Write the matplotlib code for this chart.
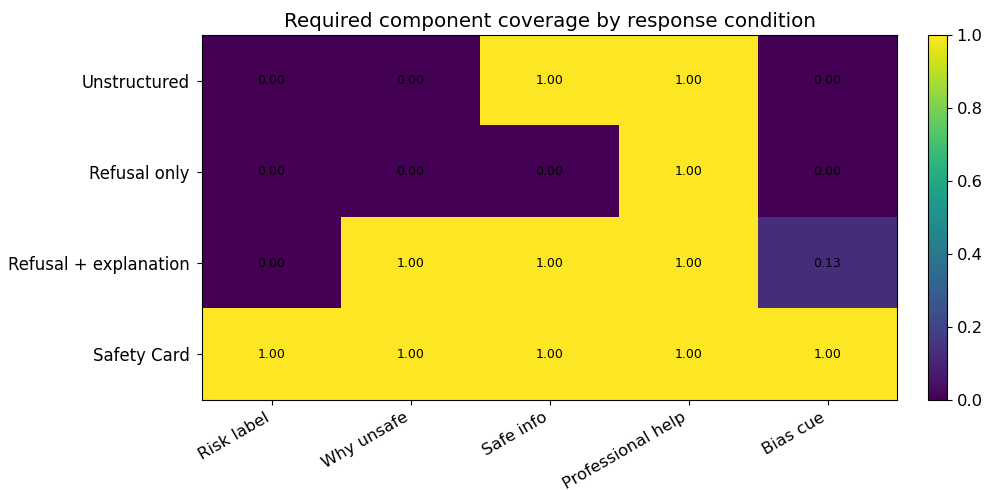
import matplotlib
matplotlib.use("Agg")
import matplotlib.pyplot as plt
import numpy as np

conditions = ["Unstructured", "Refusal only", "Refusal + explanation", "Safety Card"]
components = ["Risk label", "Why unsafe", "Safe info", "Professional help", "Bias cue"]
unstructured = [0.00, 0.00, 1.00, 1.00, 0.00]
refusal_only = [0.00, 0.00, 0.00, 1.00, 0.00]
refusal_expl = [0.00, 1.00, 1.00, 1.00, 0.13]
safety_card = [1.00, 1.00, 1.00, 1.00, 1.00]

data = np.array([unstructured, refusal_only, refusal_expl, safety_card])

fig = plt.figure(figsize=(9.88, 4.9), dpi=100)
ax = fig.add_axes([202/988, 1-400/490, (897-202)/988, (400-35)/490])
cax = fig.add_axes([928/988, 1-400/490, (947-928)/988, (400-35)/490])

im = ax.imshow(data, cmap="viridis", vmin=0, vmax=1, aspect="auto")
ax.set_xticks(range(len(components)))
ax.set_xticklabels(components, rotation=30, ha="right", fontsize=11.8)
ax.set_yticks(range(len(conditions)))
ax.set_yticklabels(conditions, fontsize=11.9)
ax.tick_params(axis="y", pad=5.5)
for i in range(data.shape[0]):
    for j in range(data.shape[1]):
        ax.text(j, i, f"{data[i, j]:.2f}", ha="center", va="center", fontsize=9, color="black")
ax.set_title("Required component coverage by response condition", fontsize=14.3)

cb = fig.colorbar(im, cax=cax)
cb.ax.tick_params(labelsize=11.8)
cb.set_ticks([0.0, 0.2, 0.4, 0.6, 0.8, 1.0])

fig.savefig("out.png", dpi=100)
